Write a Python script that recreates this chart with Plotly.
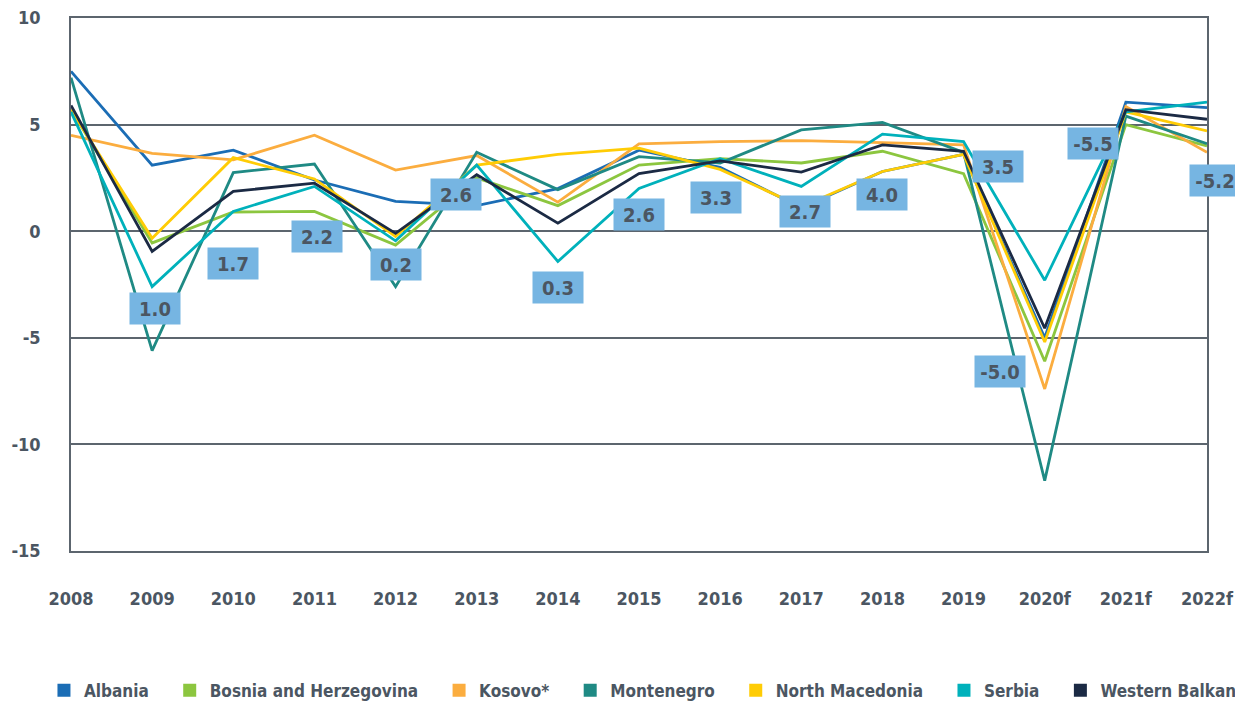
import plotly.graph_objects as go

years = ["2008", "2009", "2010", "2011", "2012", "2013", "2014", "2015",
         "2016", "2017", "2018", "2019", "2020f", "2021f", "2022f"]

albania = [7.5, 3.1, 3.8, 2.4, 1.4, 1.2, 2.0, 3.8, 3.0, 1.1, 2.8, 3.6, -5.0, 6.05, 5.8]
bosnia = [5.7, -0.55, 0.9, 0.93, -0.65, 2.5, 1.2, 3.1, 3.4, 3.2, 3.75, 2.7, -6.1, 5.0, 4.0]
kosovo = [4.5, 3.65, 3.35, 4.5, 2.87, 3.55, 1.36, 4.1, 4.2, 4.25, 4.15, 4.05, -7.4, 5.85, 3.7]
montenegro = [7.2, -5.6, 2.75, 3.15, -2.6, 3.7, 1.95, 3.5, 3.2, 4.75, 5.1, 3.7, -11.7, 5.4, 4.1]
north_macedonia = [5.7, -0.33, 3.45, 2.45, -0.25, 3.1, 3.6, 3.9, 2.9, 1.15, 2.8, 3.6, -5.2, 5.6, 4.7]
serbia = [5.6, -2.6, 0.93, 2.1, -0.45, 3.1, -1.42, 2.0, 3.4, 2.1, 4.55, 4.2, -2.3, 5.6, 6.05]
western_balkan = [5.9, -0.95, 1.87, 2.25, -0.1, 2.65, 0.38, 2.7, 3.3, 2.77, 4.05, 3.75, -4.55, 5.7, 5.25]

series_names = ["Albania", "Bosnia and Herzegovina", "Kosovo*", "Montenegro",
                "North Macedonia", "Serbia", "Western Balkan"]
series_values = [albania, bosnia, kosovo, montenegro, north_macedonia, serbia, western_balkan]
series_colors = ["#1b6db5", "#8cc63f", "#fbad3f", "#1f8a84", "#ffcc05", "#00b1bb", "#1b2a44"]

label_texts = ["1.0", "1.7", "2.2", "0.2", "2.6", "0.3", "2.6", "3.3", "2.7", "4.0",
               "3.5", "-5.0", "-5.5", "-5.2"]
label_x = [1.03, 2.0, 3.03, 4.0, 4.74, 6.0, 7.0, 7.95, 9.05, 10.0, 11.43, 11.45, 12.6, 14.1]
label_y = [-3.62, -1.5, -0.25, -1.58, 1.74, -2.63, 0.8, 1.6, 0.94, 1.74, 3.05, -6.6, 4.13, 2.4]

y_ticks = [10, 5, 0, -5, -10, -15]
y_tick_text = ["10", "5", "0", "-5", "-10", "-15"]

FONT = "DejaVu Sans Condensed, DejaVu Sans, sans-serif"
TEXT_COLOR = "#4b5662"
GRID = "#5c656e"
PAD = "\u00a0" * 3


def bold_font(size):
    return dict(family=FONT, size=size, color=TEXT_COLOR, weight="bold")


fig = go.Figure()
xs = list(range(len(years)))
x_max = xs[-1]
for name, vals, col in zip(series_names, series_values, series_colors):
    fig.add_trace(go.Scatter(x=xs, y=vals, mode="lines", name=name,
                             line=dict(color=col, width=2.8), showlegend=False,
                             hoverinfo="x+y+name"))
for i, (name, col) in enumerate(zip(series_names, series_colors)):
    fig.add_trace(go.Scatter(x=[None], y=[None], mode="markers",
                             name=name + (PAD if i < len(series_names) - 1 else ""),
                             marker=dict(symbol="square", size=13, color=col),
                             showlegend=True))

for t, lx, ly in zip(label_texts, label_x, label_y):
    fig.add_annotation(x=lx / x_max, y=ly, xref="paper", yref="y", text=t,
                       xanchor="center", yanchor="middle",
                       showarrow=False, bgcolor="#76b5e2", width=48, height=29,
                       font=bold_font(20), borderpad=1)

fig.update_layout(
    width=1235, height=702,
    margin=dict(l=71, r=28, t=18, b=151, autoexpand=False),
    paper_bgcolor="white", plot_bgcolor="white",
    font=bold_font(18),
    showlegend=True,
    legend=dict(orientation="h", x=-0.0238, xanchor="left", y=-0.262, yanchor="middle",
                font=bold_font(17), itemsizing="trace", traceorder="normal"),
    xaxis=dict(range=[0, x_max], tickvals=xs, ticktext=years, showgrid=False,
               zeroline=False, showline=True, linecolor=GRID, linewidth=1.5, mirror=True,
               ticks="", ticklabelstandoff=31, automargin=False,
               tickfont=bold_font(18)),
    yaxis=dict(range=[-15, 10], tickvals=y_ticks, ticktext=y_tick_text, showgrid=True,
               gridcolor=GRID, gridwidth=1.5, zeroline=False, showline=True,
               linecolor=GRID, linewidth=1.5, mirror=True, ticks="",
               ticklabelstandoff=25, automargin=False,
               tickfont=bold_font(18)),
)

fig.write_html("out.html", config={"displayModeBar": False},
               post_script="document.body.style.margin='0';document.body.style.overflow='hidden';")
